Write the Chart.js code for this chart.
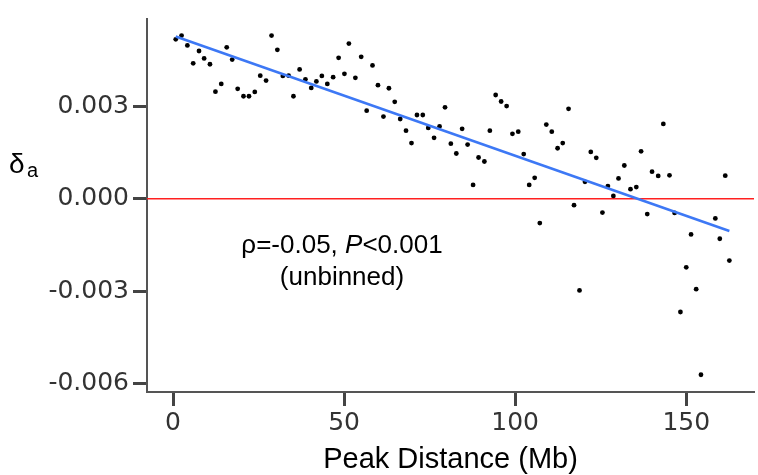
<!DOCTYPE html>
<html>
<head>
<meta charset="utf-8">
<script src="https://cdn.jsdelivr.net/npm/chart.js@4/dist/chart.umd.min.js"></script>
<style>
  html, body { margin: 0; padding: 0; background: #fff; }
</style>
</head>
<body>
<canvas id="chart" width="758" height="475"></canvas>
<script>
// Peak distance (Mb) for each point
const peakDistance = [
    0.8, 2.5, 4.2, 5.9, 7.6, 9.1, 10.8, 12.4, 14.1, 15.7,
    17.3, 18.9, 20.6, 22.2, 23.9, 25.5, 27.2, 28.8, 30.5, 32.1,
    33.8, 35.2, 37.0, 38.7, 40.4, 41.9, 43.5, 45.1, 46.8, 48.4,
    50.1, 51.4, 53.3, 55.0, 56.6, 58.3, 59.9, 61.5, 63.1, 64.8,
    66.4, 68.1, 69.7, 71.3, 73.0, 74.6, 76.3, 77.9, 79.5, 81.2,
    82.8, 84.5, 86.1, 87.7, 89.3, 91.0, 92.6, 94.3, 95.9, 97.5,
    99.2, 100.9, 102.5, 104.1, 105.7, 107.2, 109.1, 110.7, 112.4, 113.9,
    115.6, 117.2, 118.8, 120.4, 122.1, 123.7, 125.5, 127.1, 128.7, 130.2,
    131.9, 133.7, 135.4, 136.8, 138.6, 140.0, 141.8, 143.3, 145.1, 146.6,
    148.3, 150.0, 151.4, 152.9, 154.3, 158.5, 159.8, 161.4, 162.6
];

// delta_a values
const deltaA = [
    0.00518, 0.00530, 0.00498, 0.00440, 0.00480, 0.00456, 0.00437, 0.00348, 0.00373, 0.00492,
    0.00452, 0.00357, 0.00333, 0.00333, 0.00347, 0.00400, 0.00384, 0.00530, 0.00484, 0.00399,
    0.00400, 0.00333, 0.00420, 0.00388, 0.00360, 0.00381, 0.00399, 0.00373, 0.00395, 0.00458,
    0.00406, 0.00504, 0.00393, 0.00461, 0.00286, 0.00433, 0.00369, 0.00267, 0.00359, 0.00315,
    0.00259, 0.00221, 0.00181, 0.00272, 0.00272, 0.00230, 0.00198, 0.00235, 0.00297, 0.00179,
    0.00147, 0.00227, 0.00176, 0.00045, 0.00134, 0.00121, 0.00221, 0.00337, 0.00316, 0.00301,
    0.00211, 0.00218, 0.00145, 0.00045, 0.00068, -0.00079, 0.00241, 0.00218, 0.00164, 0.00181,
    0.00292, -0.00021, -0.00298, 0.00055, 0.00152, 0.00133, -0.00045, 0.00041, 0.00009, 0.00066,
    0.00108, 0.00031, 0.00038, 0.00154, -0.00050, 0.00088, 0.00074, 0.00243, 0.00076, -0.00046,
    -0.00368, -0.00223, -0.00116, -0.00294, -0.00572, -0.00064, -0.00130, 0.00075, -0.00201
];

// regression line end points
const fitX = [0.8, 162.6];
const fitY = [0.00527, -0.00105];

const xTicks = [0, 50, 100, 150];
const yTicks = [-0.006, -0.003, 0, 0.003];
const xRange = [-7.6, 169.8];
const yRange = [-0.00628, 0.00584];

const points = peakDistance.map((x, i) => ({ x: x, y: deltaA[i] }));
const fitLine = fitX.map((x, i) => ({ x: x, y: fitY[i] }));
const zeroLine = xRange.map(x => ({ x: x, y: 0 }));

// Draws the axis labels and the stats annotation
const textPlugin = {
    id: 'textPlugin',
    afterDraw(chart) {
        const ctx = chart.ctx;
        const area = chart.chartArea;
        ctx.save();
        ctx.fillStyle = '#000';
        ctx.textBaseline = 'alphabetic';

        // y axis label: delta with subscript a
        ctx.textAlign = 'left';
        ctx.font = '28px "Liberation Sans", Arial, sans-serif';
        ctx.fillText('δ', 9, 173);
        ctx.font = '20px "Liberation Sans", Arial, sans-serif';
        ctx.fillText('a', 27, 177);

        // x axis label, centred on the axes
        ctx.textAlign = 'center';
        ctx.font = '29px "Liberation Sans", Arial, sans-serif';
        ctx.fillText('Peak Distance (Mb)', (area.left + area.right) / 2, 468);

        // annotation, first line has italic P
        const cx = 342;
        const normal = '26px "Liberation Sans", Arial, sans-serif';
        const italic = 'italic 26px "Liberation Sans", Arial, sans-serif';
        const parts = [['ρ=-0.05, ', normal], ['P', italic], ['<0.001', normal]];
        let total = 0;
        parts.forEach(p => { ctx.font = p[1]; total += ctx.measureText(p[0]).width; });
        let x = cx - total / 2;
        ctx.textAlign = 'left';
        parts.forEach(p => {
            ctx.font = p[1];
            ctx.fillText(p[0], x, 253);
            x += ctx.measureText(p[0]).width;
        });
        ctx.textAlign = 'center';
        ctx.font = normal;
        ctx.fillText('(unbinned)', cx, 285);
        ctx.restore();
    }
};

const ctx = document.getElementById('chart').getContext('2d');

new Chart(ctx, {
    type: 'scatter',
    data: {
        datasets: [
            {
                label: 'fit',
                data: fitLine,
                showLine: true,
                borderColor: '#3d78f5',
                borderWidth: 2.5,
                pointRadius: 0,
                order: 0
            },
            {
                label: 'points',
                data: points,
                backgroundColor: '#000',
                borderWidth: 0,
                pointRadius: 2.4,
                order: 1
            },
            {
                label: 'zero',
                data: zeroLine,
                showLine: true,
                borderColor: '#ff2020',
                borderWidth: 1.5,
                pointRadius: 0,
                order: 2
            }
        ]
    },
    options: {
        responsive: false,
        animation: false,
        layout: {
            padding: { top: 15, right: 2, left: 0, bottom: 0 }
        },
        plugins: {
            legend: { display: false },
            tooltip: { enabled: false }
        },
        scales: {
            x: {
                type: 'linear',
                min: xRange[0],
                max: xRange[1],
                afterBuildTicks: scale => { scale.ticks = xTicks.map(v => ({ value: v })); },
                afterFit: scale => { scale.height = 83; },
                grid: {
                    drawOnChartArea: false,
                    tickLength: 14,
                    tickWidth: 3,
                    tickColor: '#444'
                },
                border: { color: '#555', width: 2 },
                ticks: {
                    padding: 2,
                    color: '#333',
                    font: { family: '"DejaVu Sans"', size: 25 },
                    maxRotation: 0
                }
            },
            y: {
                type: 'linear',
                min: yRange[0],
                max: yRange[1],
                afterBuildTicks: scale => { scale.ticks = yTicks.map(v => ({ value: v })); },
                afterFit: scale => { scale.width = 147; },
                grid: {
                    drawOnChartArea: false,
                    tickLength: 14,
                    tickWidth: 3,
                    tickColor: '#444'
                },
                border: { color: '#555', width: 2 },
                ticks: {
                    padding: 4,
                    color: '#333',
                    font: { family: '"DejaVu Sans"', size: 25 },
                    callback: v => v.toFixed(3)
                }
            }
        }
    },
    plugins: [textPlugin]
});
</script>
</body>
</html>
